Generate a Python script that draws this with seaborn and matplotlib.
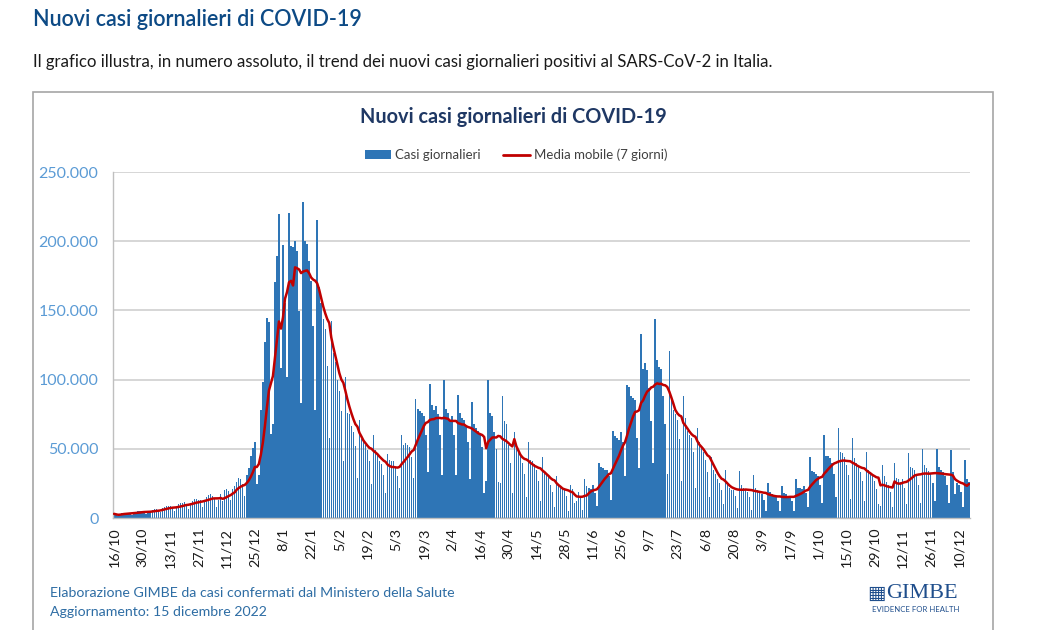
import numpy as np
import pandas as pd
import matplotlib
matplotlib.use("Agg")
import matplotlib.pyplot as plt
from matplotlib.patches import Rectangle
from matplotlib.lines import Line2D
import seaborn as sns

# ---------------- DATA ----------------
page_title = "Nuovi casi giornalieri di COVID-19"
page_subtitle = ("Il grafico illustra, in numero assoluto, il trend dei nuovi casi giornalieri "
                 "positivi al SARS-CoV-2 in Italia.")
chart_title = "Nuovi casi giornalieri di COVID-19"
label_bars = "Casi giornalieri"
label_line = "Media mobile (7 giorni)"
note_1 = "Elaborazione GIMBE da casi confermati dal Ministero della Salute"
note_2 = "Aggiornamento: 15 dicembre 2022"

# daily new cases (thousands), from Sat 16/10/2021 to Thu 15/12/2022, one row per week (Sat..Fri)
casi_migliaia = [
    3.0, 2.4, 1.6, 2.7, 3.7, 3.9, 3.8,          # 16/10
    3.7, 3.4, 2.5, 3.7, 4.6, 4.9, 4.9,          # 23/10
    5.3, 4.4, 2.8, 4.4, 5.0, 6.0, 6.2,          # 30/10
    6.7, 5.8, 4.0, 7.0, 7.9, 8.6, 8.5,          # 6/11
    8.5, 7.6, 5.1, 7.7, 10.1, 10.6, 10.6,       # 13/11
    11.6, 10.0, 6.4, 10.0, 12.4, 13.8, 13.7,    # 20/11
    12.9, 12.8, 7.9, 12.8, 15.1, 16.8, 17.0,    # 27/11
    16.0, 13.5, 8.0, 13.0, 17.0, 12.5, 20.5,    # 4/12
    21.0, 19.2, 12.7, 20.7, 23.2, 26.1, 28.6,   # 11/12
    28.1, 24.3, 16.2, 30.8, 36.3, 44.6, 50.6,   # 18/12
    54.8, 24.9, 30.8, 78.3, 98.0, 126.9, 144.2, # 25/12
    141.3, 61.0, 68.1, 170.8, 189.1, 219.4, 108.3,  # 1/1
    197.6, 155.7, 101.8, 220.5, 196.2, 196.0, 200.0, # 8/1
    193.0, 149.5, 83.4, 228.2, 200.0, 198.0, 186.0,  # 15/1
    171.3, 138.9, 77.7, 215.0, 167.2, 155.7, 143.9,  # 22/1
    136.7, 110.0, 57.7, 142.1, 119.0, 112.7, 99.5,   # 29/1
    92.0, 77.5, 41.2, 101.9, 75.9, 75.1, 66.4,  # 5/2
    62.0, 52.0, 28.6, 70.9, 57.0, 55.0, 53.0,   # 12/2
    49.0, 41.0, 24.4, 60.0, 49.0, 46.0, 41.0,   # 19/2
    39.0, 31.0, 18.0, 46.0, 42.0, 41.0, 41.0,   # 26/2
    37.0, 30.0, 22.0, 60.0, 53.0, 54.0, 53.0,   # 5/3
    51.0, 44.0, 29.0, 86.0, 79.0, 77.0, 76.0,   # 12/3
    74.0, 60.0, 33.0, 97.0, 82.0, 78.0, 81.0,   # 19/3
    75.0, 60.0, 31.0, 100.0, 79.0, 76.0, 71.0,  # 26/3
    74.0, 60.0, 31.0, 89.0, 76.0, 72.0, 71.0,   # 2/4
    66.0, 55.0, 28.0, 84.0, 68.0, 65.0, 63.0,   # 9/4
    61.0, 51.0, 18.0, 27.0, 100.0, 76.0, 74.0,  # 16/4
    62.0, 50.0, 26.0, 25.0, 88.0, 70.0, 68.0,   # 23/4
    53.0, 40.0, 18.0, 62.0, 52.0, 48.0, 47.0,   # 30/4
    40.0, 32.0, 15.0, 55.0, 42.0, 41.0, 39.0,   # 7/5
    35.0, 27.0, 12.0, 44.0, 34.0, 31.0, 30.0,   # 14/5
    24.0, 19.0, 8.0, 30.0, 24.0, 23.0, 21.0,    # 21/5
    20.0, 16.0, 5.0, 24.0, 21.0, 11.0, 12.0,    # 28/5
    19.0, 15.0, 6.0, 28.0, 23.0, 22.0, 21.0,    # 4/6
    24.0, 18.0, 9.0, 40.0, 37.0, 36.0, 35.0,    # 11/6
    35.0, 30.0, 13.0, 63.0, 59.0, 58.0, 56.0,   # 18/6
    62.0, 55.0, 30.0, 96.0, 95.0, 88.0, 87.0,   # 25/6
    85.0, 58.0, 36.0, 133.0, 108.0, 112.0, 107.0,  # 2/7
    94.0, 70.0, 40.0, 144.0, 114.0, 109.0, 108.0,  # 9/7
    88.0, 68.0, 32.0, 121.0, 85.0, 78.0, 75.0,  # 16/7
    71.0, 57.0, 27.0, 88.0, 72.0, 63.0, 60.0,   # 23/7
    58.0, 48.0, 22.0, 65.0, 55.0, 52.0, 48.0,   # 30/7
    42.0, 33.0, 15.0, 44.0, 35.0, 32.0, 28.0,   # 6/8
    25.0, 20.0, 10.0, 35.0, 24.0, 22.0, 20.0,   # 13/8
    20.0, 16.0, 7.0, 34.0, 24.0, 22.0, 21.0,    # 20/8
    19.0, 15.0, 6.0, 31.0, 22.0, 20.0, 19.0,    # 27/8
    17.0, 13.0, 5.0, 25.0, 19.0, 17.0, 16.0,    # 3/9
    15.0, 12.0, 5.0, 23.0, 18.0, 17.0, 16.0,    # 10/9
    16.0, 12.0, 5.0, 28.0, 22.0, 22.0, 21.0,    # 17/9
    23.0, 18.0, 8.0, 44.0, 34.0, 33.0, 32.0,    # 24/9
    30.0, 24.0, 11.0, 60.0, 45.0, 45.0, 43.0,   # 1/10
    40.0, 32.0, 15.0, 65.0, 48.0, 47.0, 44.0,   # 8/10
    38.0, 31.0, 14.0, 58.0, 43.0, 40.0, 38.0,   # 15/10
    33.0, 27.0, 12.0, 48.0, 35.0, 33.0, 30.0,   # 22/10
    27.0, 21.0, 10.0, 9.0, 38.0, 30.0, 26.0,    # 29/10
    24.0, 19.0, 8.0, 40.0, 29.0, 28.0, 26.0,    # 5/11
    28.0, 22.0, 10.0, 47.0, 37.0, 36.0, 35.0,   # 12/11
    31.0, 24.0, 11.0, 50.0, 38.0, 36.0, 34.0,   # 19/11
    32.0, 25.0, 12.0, 50.0, 37.0, 35.0, 33.0,   # 26/11
    30.0, 24.0, 11.0, 49.0, 33.0, 17.0, 25.0,   # 3/12
    24.0, 19.0, 8.0, 42.0, 28.0, 26.0,          # 10/12
]

tick_labels = ["16/10", "30/10", "13/11", "27/11", "11/12", "25/12", "8/1", "22/1",
               "5/2", "19/2", "5/3", "19/3", "2/4", "16/4", "30/4", "14/5", "28/5",
               "11/6", "25/6", "9/7", "23/7", "6/8", "20/8", "3/9", "17/9", "1/10",
               "15/10", "29/10", "12/11", "26/11", "10/12"]
y_ticks = [0, 50000, 100000, 150000, 200000, 250000]
y_tick_labels = ["0", "50.000", "100.000", "150.000", "200.000", "250.000"]

# ---------------- FRAME ----------------
casi = np.array(casi_migliaia) * 1000.0
giorno = np.arange(len(casi))
df = pd.DataFrame({"giorno": giorno, "casi": casi})
df["media"] = df["casi"].rolling(7, min_periods=1).mean()

sns.set_theme(style="white")
plt.rcParams["font.family"] = ["Lato", "DejaVu Sans"]

W, H = 1039, 630
fig = plt.figure(figsize=(W / 100, H / 100), dpi=100)
fig.patch.set_facecolor("white")

def fx(px):
    return px / W

def fy(py):
    return 1 - py / H

# page texts
fig.text(fx(33), fy(20), page_title, fontsize=15.5, color="#0d4a85",
         ha="left", va="center", fontweight="semibold")
fig.text(fx(33), fy(62), page_subtitle, fontsize=12.1, color="#1a1a1a",
         ha="left", va="center")

# chart box
box = Rectangle((fx(33), fy(632)), fx(993) - fx(33), fy(92) - fy(632),
                transform=fig.transFigure, fill=False, edgecolor="#a6a6a6",
                linewidth=1.2, zorder=0)
fig.patches.append(box)

fig.text(fx(513), fy(117), chart_title, fontsize=14.3, color="#1f3864",
         ha="center", va="center", fontweight="bold")

# axes
ax = fig.add_axes([fx(113), fy(518), fx(970) - fx(113), fy(172) - fy(518)])
ax.set_facecolor("white")

sns.barplot(data=df, x="giorno", y="casi", native_scale=True, color="#2e75b6",
            width=0.72, linewidth=0, saturation=1, ax=ax, zorder=2)
sns.lineplot(data=df, x="giorno", y="media", color="#c00000", linewidth=1.8,
             ax=ax, zorder=3)

ax.set_xlim(-0.5, len(casi) - 0.5)
ax.set_ylim(0, 250000)
ax.set_yticks(y_ticks)
ax.set_yticklabels(y_tick_labels, color="#5b9bd5", fontsize=11.5)
ax.set_xticks(np.arange(0, len(tick_labels) * 14, 14))
ax.set_xticklabels(tick_labels, rotation=90, fontsize=10.3, color="#1a1a1a")
ax.set_xlabel("")
ax.set_ylabel("")
ax.yaxis.grid(True, color="#d0d0d0", linewidth=1.2, zorder=0)
ax.set_axisbelow(True)
for s in ["top", "right"]:
    ax.spines[s].set_visible(False)
ax.spines["left"].set_color("#bfbfbf")
ax.spines["bottom"].set_color("#bfbfbf")
ax.spines["left"].set_linewidth(1.0)
ax.spines["bottom"].set_linewidth(1.0)
ax.tick_params(axis="y", length=0, pad=10.5)
ax.tick_params(axis="x", length=4, color="#bfbfbf", pad=3, direction="out")
if ax.get_legend() is not None:
    ax.get_legend().remove()

# legend
handles = [Rectangle((0, 0), 1, 1, facecolor="#2e75b6", edgecolor="none"),
           Line2D([0], [0], color="#c00000", linewidth=2)]
fig.legend(handles, [label_bars, label_line], loc="center",
           bbox_to_anchor=(fx(516), fy(155)), ncol=2, frameon=False,
           fontsize=9.5, handlelength=2.0, handleheight=0.6,
           columnspacing=1.7, handletextpad=0.3, labelcolor="#404040")

# footnotes
fig.text(fx(50), fy(593), note_1, fontsize=10.2, color="#2e6da4", ha="left", va="center")
fig.text(fx(50), fy(612), note_2, fontsize=10.2, color="#2e6da4", ha="left", va="center")

# GIMBE logo (text)
fig.text(fx(876), fy(593), "\u25A6", fontsize=14, color="#1f4e8c", ha="center", va="center",
         family=["DejaVu Sans"])
fig.text(fx(886), fy(593), "GIMBE", fontsize=16, color="#1f4e8c", ha="left", va="center",
         family=["Liberation Serif", "DejaVu Serif"])
fig.text(fx(872), fy(610), "EVIDENCE FOR HEALTH", fontsize=5.6, color="#1f4e8c",
         ha="left", va="center")

fig.savefig("out.png", dpi=100, facecolor="white")
